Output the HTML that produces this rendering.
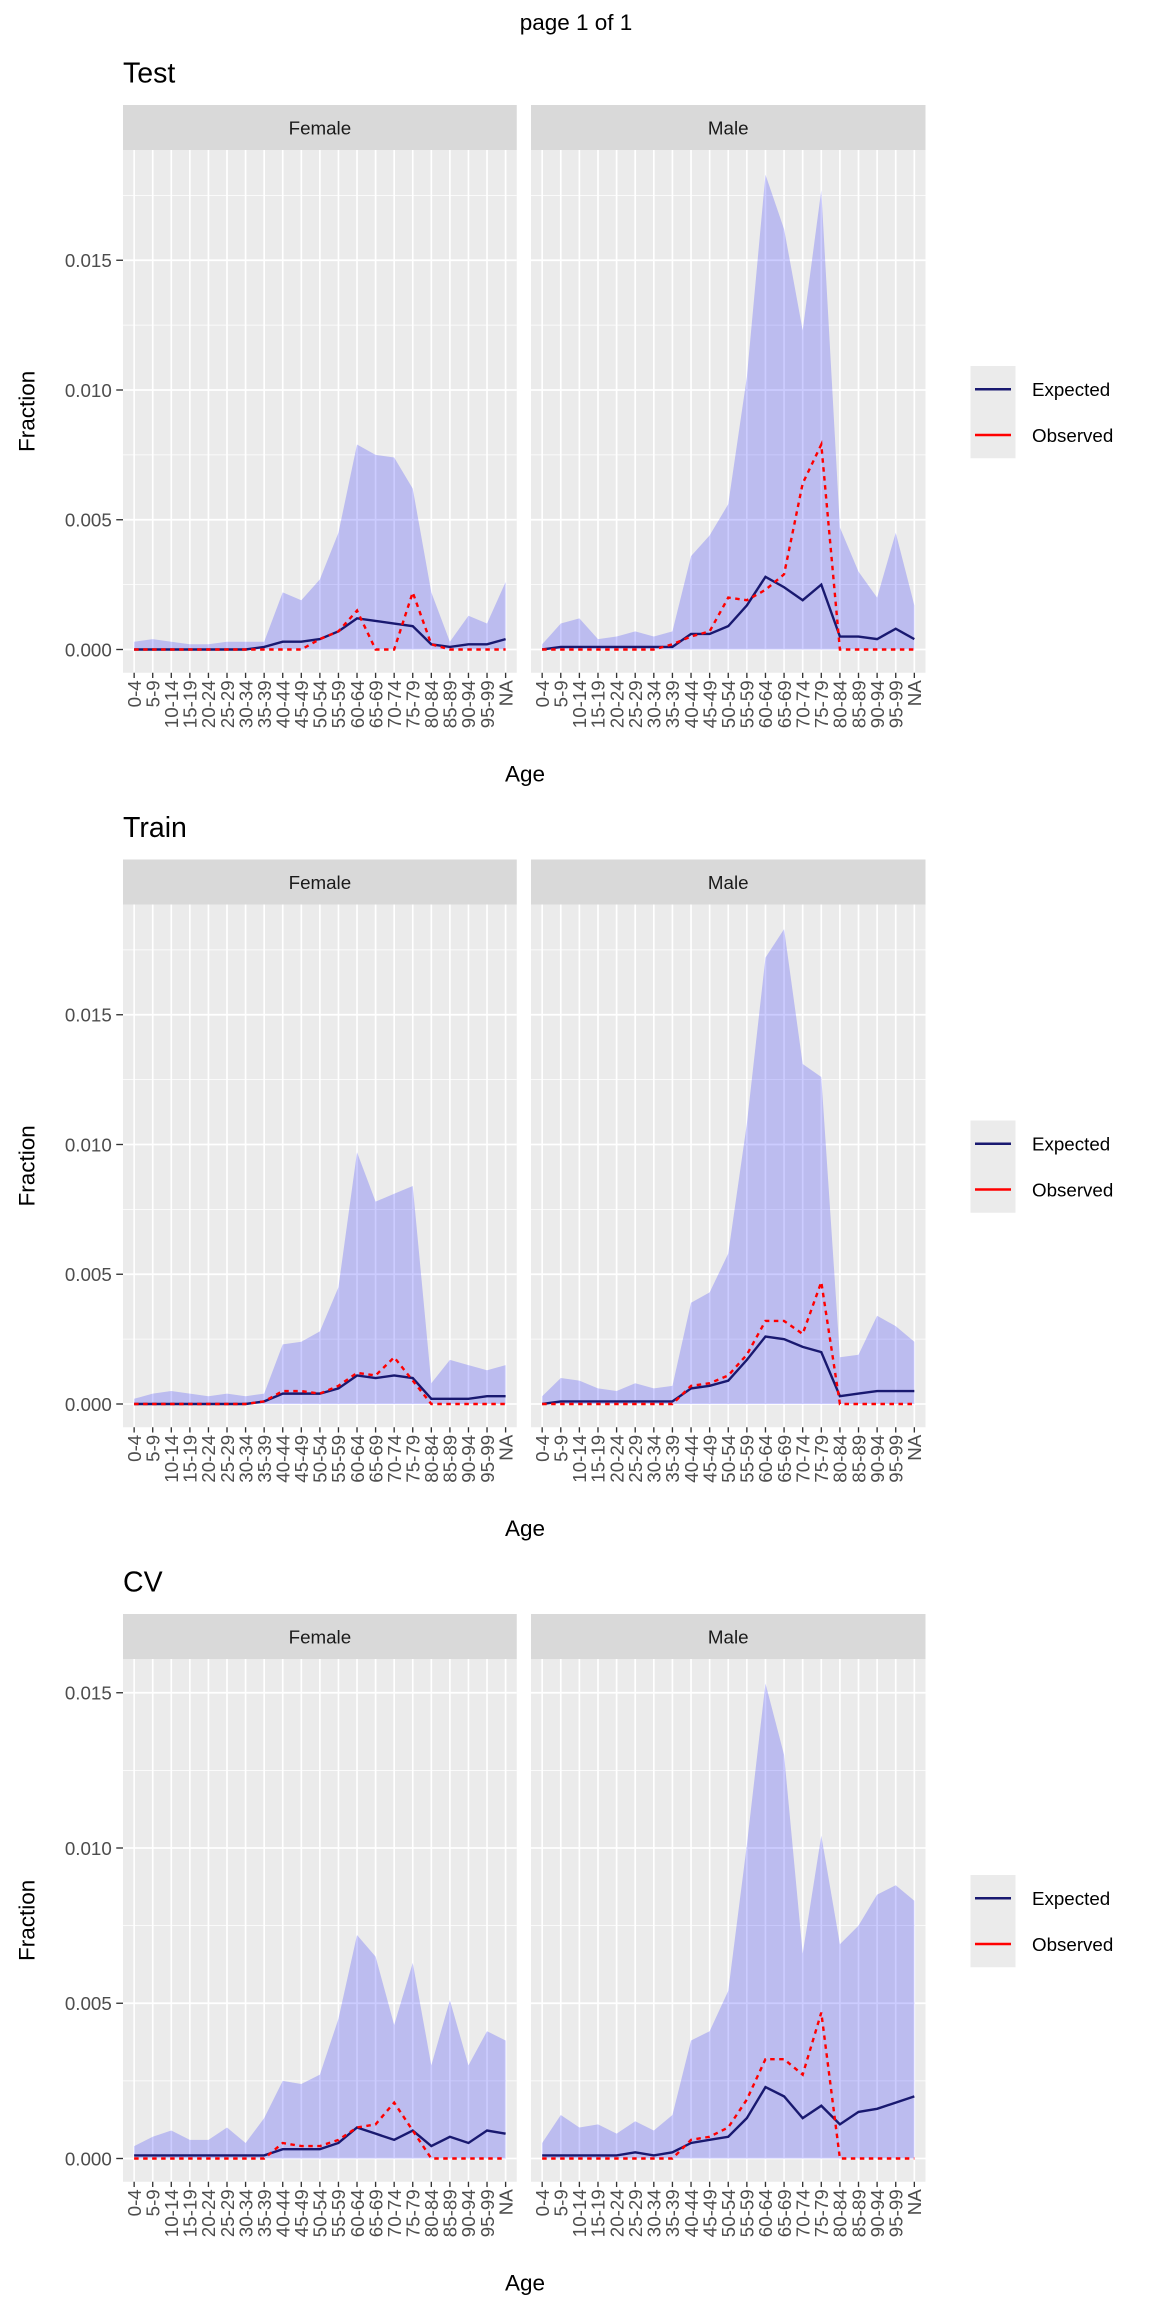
<!DOCTYPE html>
<html><head><meta charset="utf-8"><style>
html,body{margin:0;padding:0;background:#fff;}
svg{display:block;font-family:"Liberation Sans",Arial,sans-serif;}
</style></head><body>
<svg id="chart" width="1152" height="2304" viewBox="0 0 768 1536" xmlns="http://www.w3.org/2000/svg">
<rect x="0" y="0" width="768" height="1536" fill="#fff"/>
<text x="384" y="20" text-anchor="middle" font-size="15" fill="#000">page 1 of 1</text>
</svg>
<script>
const categories = ["0-4","5-9","10-14","15-19","20-24","25-29","30-34","35-39","40-44","45-49","50-54","55-59","60-64","65-69","70-74","75-79","80-84","85-89","90-94","95-99","NA"];
const yTicks = [0,0.005,0.010,0.015];
const yTickLabels = ["0.000","0.005","0.010","0.015"];
const sectionTitles = ["Test","Train","CV"];
const facetNames = ["Female","Male"];
const testFemaleUpper = [0.0003,0.0004,0.0003,0.0002,0.0002,0.0003,0.0003,0.0003,0.0022,0.0019,0.0027,0.0045,0.0079,0.0075,0.0074,0.0062,0.0022,0.0003,0.0013,0.0010,0.0026];
const testFemaleExpected = [0,0,0,0,0,0,0,0.0001,0.0003,0.0003,0.0004,0.0007,0.0012,0.0011,0.0010,0.0009,0.0002,0.0001,0.0002,0.0002,0.0004];
const testFemaleObserved = [0,0,0,0,0,0,0,0,0,0,0.0004,0.0007,0.0015,0,0,0.0022,0.0002,0,0,0,0];
const testMaleUpper = [0.0002,0.0010,0.0012,0.0004,0.0005,0.0007,0.0005,0.0007,0.0036,0.0044,0.0056,0.0105,0.0183,0.0162,0.0123,0.0177,0.0047,0.0030,0.0020,0.0045,0.0017];
const testMaleExpected = [0,0.0001,0.0001,0.0001,0.0001,0.0001,0.0001,0.0001,0.0006,0.0006,0.0009,0.0017,0.0028,0.0024,0.0019,0.0025,0.0005,0.0005,0.0004,0.0008,0.0004];
const testMaleObserved = [0,0,0,0,0,0,0,0.0002,0.0005,0.0007,0.0020,0.0019,0.0023,0.0029,0.0064,0.0079,0,0,0,0,0];
const trainFemaleUpper = [0.0002,0.0004,0.0005,0.0004,0.0003,0.0004,0.0003,0.0004,0.0023,0.0024,0.0028,0.0045,0.0097,0.0078,0.0081,0.0084,0.0008,0.0017,0.0015,0.0013,0.0015];
const trainFemaleExpected = [0,0,0,0,0,0,0,0.0001,0.0004,0.0004,0.0004,0.0006,0.0011,0.0010,0.0011,0.0010,0.0002,0.0002,0.0002,0.0003,0.0003];
const trainFemaleObserved = [0,0,0,0,0,0,0,0.0001,0.0005,0.0005,0.0004,0.0007,0.0012,0.0011,0.0018,0.0009,0,0,0,0,0];
const trainMaleUpper = [0.0003,0.0010,0.0009,0.0006,0.0005,0.0008,0.0006,0.0007,0.0039,0.0043,0.0058,0.0108,0.0172,0.0183,0.0131,0.0126,0.0018,0.0019,0.0034,0.0030,0.0024];
const trainMaleExpected = [0,0.0001,0.0001,0.0001,0.0001,0.0001,0.0001,0.0001,0.0006,0.0007,0.0009,0.0017,0.0026,0.0025,0.0022,0.0020,0.0003,0.0004,0.0005,0.0005,0.0005];
const trainMaleObserved = [0,0,0,0,0,0,0,0,0.0007,0.0008,0.0011,0.0019,0.0032,0.0032,0.0027,0.0047,0,0,0,0,0];
const cvFemaleUpper = [0.0004,0.0007,0.0009,0.0006,0.0006,0.0010,0.0005,0.0013,0.0025,0.0024,0.0027,0.0045,0.0072,0.0065,0.0043,0.0063,0.0030,0.0051,0.0030,0.0041,0.0038];
const cvFemaleExpected = [0.0001,0.0001,0.0001,0.0001,0.0001,0.0001,0.0001,0.0001,0.0003,0.0003,0.0003,0.0005,0.0010,0.0008,0.0006,0.0009,0.0004,0.0007,0.0005,0.0009,0.0008];
const cvFemaleObserved = [0,0,0,0,0,0,0,0,0.0005,0.0004,0.0004,0.0006,0.0010,0.0011,0.0018,0.0009,0,0,0,0,0];
const cvMaleUpper = [0.0005,0.0014,0.0010,0.0011,0.0008,0.0012,0.0009,0.0014,0.0038,0.0041,0.0054,0.0101,0.0153,0.0130,0.0066,0.0104,0.0069,0.0075,0.0085,0.0088,0.0083];
const cvMaleExpected = [0.0001,0.0001,0.0001,0.0001,0.0001,0.0002,0.0001,0.0002,0.0005,0.0006,0.0007,0.0013,0.0023,0.0020,0.0013,0.0017,0.0011,0.0015,0.0016,0.0018,0.0020];
const cvMaleObserved = [0,0,0,0,0,0,0,0,0.0006,0.0007,0.0010,0.0019,0.0032,0.0032,0.0027,0.0047,0,0,0,0,0];

const sections = [
  [[testFemaleUpper,testFemaleExpected,testFemaleObserved],[testMaleUpper,testMaleExpected,testMaleObserved]],
  [[trainFemaleUpper,trainFemaleExpected,trainFemaleObserved],[trainMaleUpper,trainMaleExpected,trainMaleObserved]],
  [[cvFemaleUpper,cvFemaleExpected,cvFemaleObserved],[cvMaleUpper,cvMaleExpected,cvMaleObserved]]
];
const sectionPxPerUnit = [86.5, 86.5, 103.5];

const svg = document.getElementById('chart');
const NS = "http://www.w3.org/2000/svg";
function mk(tag, attrs, parent){
  const e = document.createElementNS(NS, tag);
  for (const k in attrs) e.setAttribute(k, attrs[k]);
  (parent||svg).appendChild(e);
  return e;
}
const panelX = [82, 354];
const panelW = [262.5, 263];
const OFF = 503;

sections.forEach((sec, s) => {
  const off = s*OFF;
  const g = mk('g', {});
  
  
  const t = mk('text', {x:82, y:55+off, 'font-size':19, fill:'#000'}, g);
  t.textContent = sectionTitles[s];
  
  
  const y0 = 433 + off;
  const ppu = sectionPxPerUnit[s];
  const yScale = v => y0 - v / 0.005 * ppu;
  const top = 100 + off, bottom = 448.5 + off;

  const yl = mk('text', {x:0, y:0, 'font-size':15, fill:'#000', 'text-anchor':'middle', transform:`translate(23,${(top+bottom)/2}) rotate(-90)`}, g);
  yl.textContent = 'Fraction';
  
  
  const xl = mk('text', {x:350, y:521+off, 'font-size':15, fill:'#000', 'text-anchor':'middle'}, g);
  xl.textContent = 'Age';
  
  

  yTicks.forEach((v,i) => {
    const tt = mk('text', {x:74.5, y:yScale(v)+4.5, 'font-size':12.5, fill:'#4d4d4d', 'text-anchor':'end'}, g);
    tt.textContent = yTickLabels[i];
    
    
    mk('line', {x1:77.5, x2:82, y1:yScale(v), y2:yScale(v), stroke:'#333', 'stroke-width':0.9}, g);
  });

  sec.forEach((series, p) => {
    const px = panelX[p], pw = panelW[p];
    const step = pw / (categories.length - 1 + 1.2);
    const xScale = i => px + step*0.6 + i*step;
    const strip = mk('rect', {x:px, y:70+off, width:pw, height:30, fill:'#D9D9D9'}, g);
    
    
    const st = mk('text', {x:px+pw/2, y:89.5+off, 'font-size':12.5, fill:'#1a1a1a', 'text-anchor':'middle'}, g);
    st.textContent = facetNames[p];
    
    
    const bg = mk('rect', {x:px, y:top, width:pw, height:bottom-top, fill:'#EBEBEB'}, g);
    
    
    for (let v = 0.0025; v < 0.02; v += 0.005) {
      const yy = yScale(v); if (yy > top) mk('line', {x1:px, x2:px+pw, y1:yy, y2:yy, stroke:'#fff', 'stroke-width':0.5}, g);
    }
    yTicks.forEach(v => mk('line', {x1:px, x2:px+pw, y1:yScale(v), y2:yScale(v), stroke:'#fff', 'stroke-width':1.1}, g));
    categories.forEach((c,i) => {
      mk('line', {x1:xScale(i), x2:xScale(i), y1:top, y2:bottom, stroke:'#fff', 'stroke-width':1.1}, g);
      mk('line', {x1:xScale(i), x2:xScale(i), y1:bottom, y2:bottom+3.5, stroke:'#333', 'stroke-width':0.9}, g);
      const lt = mk('text', {x:0, y:0, 'font-size':12.5, fill:'#4d4d4d', 'text-anchor':'end', transform:`translate(${xScale(i)+4.5},${bottom+5}) rotate(-90)`}, g);
      lt.textContent = c;
      
      
    });
    const [up, ex, ob] = series;
    let d = up.map((v,i) => (i?'L':'M') + xScale(i) + ',' + yScale(v)).join('');
    d += 'L' + xScale(up.length-1) + ',' + yScale(0) + 'L' + xScale(0) + ',' + yScale(0) + 'Z';
    const rib = mk('path', {d, fill:'#0000FF', 'fill-opacity':0.2, stroke:'none'}, g);
    
    
    const ep = mk('path', {d: ex.map((v,i)=>(i?'L':'M')+xScale(i)+','+yScale(v)).join(''), fill:'none', stroke:'#191970', 'stroke-width':1.6}, g);
    
    
    const op = mk('path', {d: ob.map((v,i)=>(i?'L':'M')+xScale(i)+','+yScale(v)).join(''), fill:'none', stroke:'#FF0000', 'stroke-width':1.6, 'stroke-dasharray':'3,3'}, g);
    
    
  });

  const lg = mk('g', {}, g);
  
  
  mk('rect', {x:647, y:244+off, width:30, height:61.5, fill:'#EBEBEB'}, lg);
  mk('line', {x1:650, x2:674, y1:259.5+off, y2:259.5+off, stroke:'#191970', 'stroke-width':1.6}, lg);
  mk('line', {x1:650, x2:674, y1:290+off, y2:290+off, stroke:'#FF0000', 'stroke-width':1.6}, lg);
  const e1 = mk('text', {x:688, y:264+off, 'font-size':12.5, fill:'#000'}, lg);
  e1.textContent = 'Expected';
  
  
  const e2 = mk('text', {x:688, y:294.5+off, 'font-size':12.5, fill:'#000'}, lg);
  e2.textContent = 'Observed';
  
  
});
</script>
</body></html>
